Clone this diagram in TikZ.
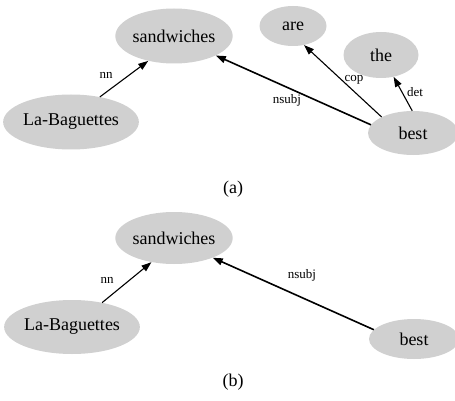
\documentclass[tikz,border=0pt]{standalone}
\usepackage{fontspec}
\setmainfont{Liberation Serif}
\usetikzlibrary{shapes.geometric,arrows.meta}
\definecolor{nodegray}{HTML}{D0D0D0}

\begin{document}
\begin{tikzpicture}[x=1pt,y=-1pt,
    word/.style={ellipse,fill=nodegray,inner sep=0pt,font=\fontsize{18}{20}\selectfont},
    rel/.style={font=\fontsize{13}{15}\selectfont},
    dep/.style={-{Triangle[length=10pt,width=7pt]},line width=1.1pt},
    subcap/.style={font=\fontsize{18}{20}\selectfont}]

  \useasboundingbox (0,0) rectangle (455,401);

  % (a)
  \node[word,minimum width=114pt,minimum height=55pt] (sandA) at (174,36) {sandwiches};
  \node[word,minimum width=122pt,minimum height=55pt] (bagA) at (71,122) {La-Baguettes};
  \node[word,minimum width=67pt,minimum height=40pt] (areA) at (293,26) {are};
  \node[word,minimum width=75pt,minimum height=46pt] (theA) at (381,55) {the};
  \node[word,minimum width=90pt,minimum height=44pt] (bestA) at (413,133) {best};

  \draw[dep] (bagA.41) -- (sandA.224);
  \draw[dep,line width=1.6pt] (bestA.169) -- (sandA.335);
  \draw[dep] (bestA.153) -- (areA.300);
  \draw[dep] (bestA.92) -- (theA.300);

  \node[rel] (nnA) at (106,75) {nn};
  \node[rel] (nsubjA) at (287,100) {nsubj};
  \node[rel] (copA) at (354,80) {cop};
  \node[rel] (detA) at (415,92) {det};

  \node[subcap] (capA) at (233,189) {(a)};

  % (b)
  \node[word,minimum width=114pt,minimum height=52pt] (sandB) at (174,238) {sandwiches};
  \node[word,minimum width=120pt,minimum height=54pt] (bagB) at (72,327) {La-Baguettes};
  \node[word,minimum width=90pt,minimum height=40pt] (bestB) at (414,339) {best};

  \draw[dep] (bagB.39) -- (sandB.227);
  \draw[dep,line width=1.6pt] (bestB.167) -- (sandB.333);

  \node[rel] (nnB) at (107,280) {nn};
  \node[rel] (nsubjB) at (302,275) {nsubj};

  \node[subcap] (capB) at (233,382) {(b)};
\end{tikzpicture}
\end{document}
